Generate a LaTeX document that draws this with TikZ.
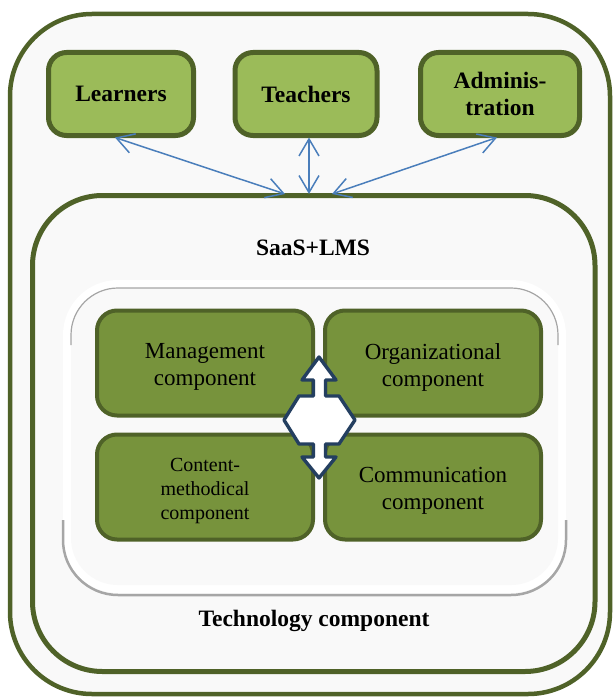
\documentclass[tikz,border=0pt]{standalone}
\usepackage{fontspec}
\setmainfont{Liberation Serif}
\usetikzlibrary{arrows.meta}
\definecolor{olivedark}{HTML}{4F6228}
\definecolor{lightgreen}{HTML}{9BBB59}
\definecolor{midgreen}{HTML}{77933C}
\definecolor{bgcol}{HTML}{F9F9F9}
\definecolor{linkblue}{HTML}{4A7EBB}
\definecolor{navyarrow}{HTML}{243F60}
\definecolor{shadowgray}{HTML}{A6A6A6}
\begin{document}
\begin{tikzpicture}[x=1pt,y=-1pt,
  frame/.style={draw=olivedark, fill=bgcol},
  topbox/.style={draw=olivedark, fill=lightgreen, line width=5pt, rounded corners=18pt,
    font=\fontsize{23.5}{27}\selectfont\bfseries, align=center, inner sep=0pt},
  compbox/.style={draw=olivedark, fill=midgreen, line width=4pt, rounded corners=20pt,
    minimum width=216pt, minimum height=105pt, inner sep=0pt},
  comptext/.style={font=\fontsize{23}{27}\selectfont, align=center, inner sep=0pt},
  smalltext/.style={font=\fontsize{20}{24}\selectfont, align=center, inner sep=0pt},
  boldlabel/.style={font=\fontsize{23.5}{27}\selectfont\bfseries, inner sep=0pt},
  link/.style={draw=linkblue, line width=1.5pt,
    {Straight Barb[length=17pt,width=20pt]}-{Straight Barb[length=17pt,width=20pt]}}
]
\useasboundingbox (0,0) rectangle (613,698);
\fill[white] (0,0) rectangle (613,698);

% outer frame
\draw[frame, line width=4.5pt, rounded corners=82pt] (10,14) rectangle (610,694);

% top boxes
\node[topbox, minimum width=145pt, minimum height=83pt] (learners) at (121,94) {Learners};
\node[topbox, minimum width=142pt, minimum height=83pt] (teachers) at (306,94) {Teachers};
\node[topbox, minimum width=159pt, minimum height=83pt] (admin) at (500,94) {Adminis-\\tration};

% SaaS + LMS frame
\draw[frame, line width=5pt, rounded corners=70pt] (32.5,195.5) rectangle (595,671.5);
\node[boldlabel] (saas) at (313,248) {SaaS+LMS};
\node[boldlabel] (tech) at (314,621) {Technology component};

% inner bevelled panel
\fill[white, rounded corners=55pt] (63,280) rectangle (566,593);
\fill[bgcol, rounded corners=47pt] (71,288) rectangle (558,585);
\draw[shadowgray, line width=1.2pt, rounded corners=47pt] (71,345) -- (71,288) -- (558,288) -- (558,345);
\draw[shadowgray, line width=2.5pt, rounded corners=55pt] (63,520) -- (63,595) -- (566,595) -- (566,520);

% component boxes
\node[compbox] (mgmt) at (205,363) {};
\node[compbox] (org) at (433,363) {};
\node[compbox] (content) at (205,487) {};
\node[compbox] (comm) at (433,487) {};
\node[comptext] (mgmtT) at ([yshift=-4pt]mgmt.center) {Management\\component};
\node[comptext] (orgT) at ([yshift=-4pt]org.center) {Organizational\\component};
\node[smalltext] (contentT) at ([yshift=-4pt]content.center) {Content-\\methodical\\component};
\node[comptext] (commT) at ([yshift=-4pt]comm.center) {Communication\\component};

% four-way arrow
\draw[navyarrow, fill=white, line width=3.4pt, line join=round]
  (319,357) -- (336,380) -- (325.5,380) -- (325.5,396) -- (339,396) -- (355,420)
  -- (339,444) -- (325.5,444) -- (325.5,457) -- (336,457) -- (319,478) -- (302,457)
  -- (313.5,457) -- (313.5,444) -- (299,444) -- (284,420) -- (299,396) -- (313.5,396)
  -- (313.5,380) -- (302,380) -- cycle;

% connectors
\coordinate (lTop) at (115,137.5);
\coordinate (lBot) at (285,194);
\coordinate (tTop) at (309,137.5);
\coordinate (tBot) at (309,194);
\coordinate (aTop) at (497,137.5);
\coordinate (aBot) at (332,194);
\draw[link] (lTop) -- (lBot);
\draw[link] (tTop) -- (tBot);
\draw[link] (aTop) -- (aBot);
\end{tikzpicture}
\end{document}
